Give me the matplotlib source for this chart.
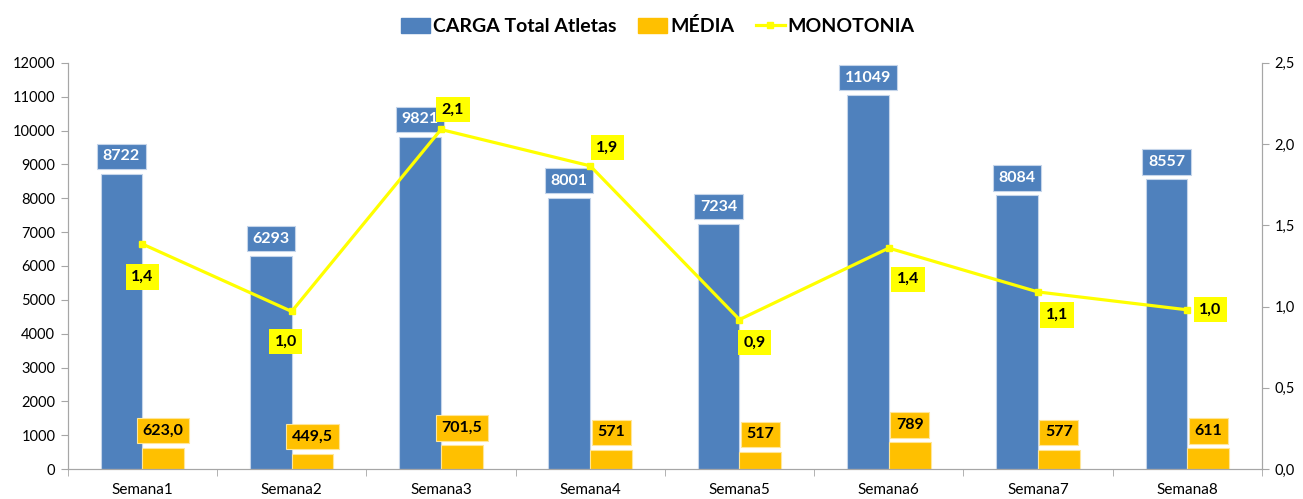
import numpy as np
import matplotlib
matplotlib.use("Agg")
import matplotlib.pyplot as plt
from matplotlib.patches import Patch
from matplotlib.lines import Line2D
from matplotlib.ticker import FuncFormatter, MultipleLocator

plt.rcParams['font.family'] = ['Lato', 'DejaVu Sans']

# data
semanas = ["Semana1", "Semana2", "Semana3", "Semana4",
           "Semana5", "Semana6", "Semana7", "Semana8"]
carga = [8722, 6293, 9821, 8001, 7234, 11049, 8084, 8557]
media = [623.0, 449.5, 701.5, 571, 517, 789, 577, 611]
media_labels = ["623,0", "449,5", "701,5", "571", "517", "789", "577", "611"]
monotonia = [1.385, 0.97, 2.09, 1.866, 0.92, 1.36, 1.09, 0.98]

BLUE = "#4F81BD"
ORANGE = "#FFC000"
YELLOW = "#FFFF00"
GREY = "#A6A6A6"

fig = plt.figure(figsize=(13.03, 4.99), dpi=100)
ax = fig.add_axes([0.052, 0.060, 0.9165, 0.814])
ax2 = ax.twinx()

x = np.arange(len(semanas))
w = 0.28

ax.bar(x - w / 2, carga, w, color=BLUE, edgecolor="#C5D5EA", linewidth=0.8, zorder=2)
ax.bar(x + w / 2, media, w, color=ORANGE, edgecolor="#FFE699", linewidth=0.8, zorder=2)

# bar labels
for xi, v in zip(x, carga):
    ax.annotate(f"{v}", (xi - w / 2, v), xytext=(0, 12.5), textcoords="offset points",
                ha="center", va="center", fontsize=11.5, fontweight="bold", color="white",
                bbox=dict(boxstyle="square,pad=0.35", fc=BLUE, ec="#C5D5EA", lw=0.8), zorder=5)
for xi, v, lab in zip(x, media, media_labels):
    ax.annotate(lab, (xi + w / 2, v), xytext=(0, 12.5), textcoords="offset points",
                ha="center", va="center", fontsize=11.5, fontweight="bold", color="black",
                bbox=dict(boxstyle="square,pad=0.35", fc=ORANGE, ec="#FFE699", lw=0.8), zorder=5)

# monotonia line
ax2.plot(x, monotonia, color=YELLOW, lw=2.3, marker="s", ms=5, zorder=4)
px_off = [(0, -33), (-6, -30), (12, 20), (17, 18), (15, -23), (19, -31), (19, -23), (23, 0)]
for xi, v, (dx, dy) in zip(x, monotonia, px_off):
    ax2.annotate(f"{v:.1f}".replace(".", ","), (xi, v), xytext=(dx / 1.389, dy / 1.389),
                 textcoords="offset points", ha="center", va="center", fontsize=11.5,
                 fontweight="bold", color="black",
                 bbox=dict(boxstyle="square,pad=0.35", fc=YELLOW, ec="none"), zorder=6)

ax.set_xlim(-0.5, len(semanas) - 0.5)
ax.set_ylim(0, 12000)
ax2.set_ylim(0, 2.5)
ax.yaxis.set_major_locator(MultipleLocator(1000))
ax2.yaxis.set_major_locator(MultipleLocator(0.5))
ax2.yaxis.set_major_formatter(FuncFormatter(lambda v, p: f"{v:.1f}".replace(".", ",")))

ax.set_xticks(x)
ax.set_xticklabels(semanas, fontsize=11)
ax.set_xticks(np.arange(-0.5, len(semanas)), minor=True)
ax.tick_params(axis="x", which="major", length=0, pad=10)
ax.tick_params(axis="x", which="minor", length=5, color=GREY, direction="out")
ax.tick_params(axis="y", labelsize=10.5, length=5, color=GREY, pad=4)
ax2.tick_params(axis="y", labelsize=10.5, length=5, color=GREY, pad=4)

for a in (ax, ax2):
    a.spines["top"].set_visible(False)
    for s in ("left", "right", "bottom"):
        a.spines[s].set_color(GREY)
ax.set_zorder(ax2.get_zorder() - 1)
ax2.patch.set_visible(False)
ax.patch.set_visible(True)

handles = [Patch(color=BLUE), Patch(color=ORANGE),
           Line2D([0], [0], color=YELLOW, lw=2.3, marker="s", ms=4)]
fig.legend(handles, ["CARGA Total Atletas", "MÉDIA", "MONOTONIA"], loc="center",
           bbox_to_anchor=(0.505, 0.947), ncol=3, frameon=False,
           prop=dict(size=14, weight="bold"), handlelength=1.5, handleheight=0.8,
           handletextpad=0.15, columnspacing=1.1)

fig.savefig("out.png", dpi=100)
